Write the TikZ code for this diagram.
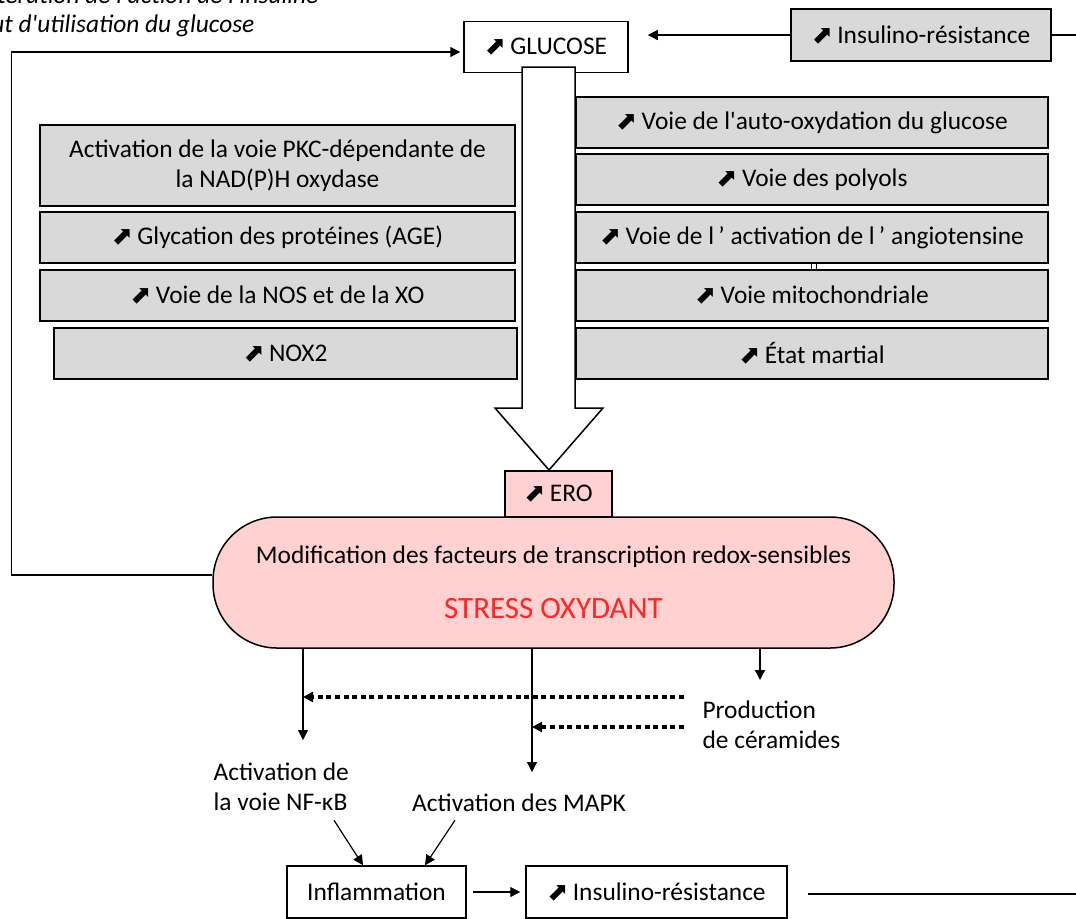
\documentclass[tikz,border=0pt]{standalone}
\usepackage{fontspec}
\setmainfont{Carlito}
\newfontfamily\symbfont{DejaVu Sans}
\usetikzlibrary{arrows.meta}
\definecolor{boxgray}{RGB}{217,217,217}
\definecolor{eropink}{RGB}{255,209,208}
\definecolor{stressred}{RGB}{255,38,38}
\newcommand{\hausse}{{\symbfont\char"2B08}\,}
\newcommand{\ap}{\textquotesingle}

\begin{document}
\begin{tikzpicture}[x=0.5pt, y=-0.5pt, line width=0.6pt, >={Triangle[length=5pt,width=5pt]},
            every node/.style={font=\fontsize{12.7}{15}\selectfont, inner sep=0pt},
            cadre/.style={draw, line width=0.75pt, fill=white},
            gris/.style={cadre, fill=boxgray},
            voie/.style={gris, minimum width=236pt, minimum height=25.5pt},
            note/.style={anchor=base east, font=\fontsize{12.7}{15}\selectfont\itshape},
            ceram/.style={line width=2pt, dash pattern=on 2.5pt off 1.8pt}]
            \clip (0,0) rectangle (1076,918);
            \node[note] (note1) at (319,3) {Altération de l\ap action de l\ap insuline};
            \node[note] (note2) at (255,32) {Défaut d\ap utilisation du glucose};
            \node[cadre, minimum width=82pt, minimum height=25.5pt] (glucose) at (546,47) {\hausse GLUCOSE};
            \node[gris, minimum width=130pt, minimum height=26pt] (irtop) at (921,35) {\hausse Insulino-résistance};
            \coordinate (rtop) at (1080,35);
            \draw[fill=white, line width=0.75pt] (522,67) -- (522,408) -- (495,408) -- (549,470) -- (603,408) -- (575,408) -- (575,67) -- cycle;
            \node[gris, minimum width=237.5pt, minimum height=40.5pt, align=center] (pkc) at (277.5,165.5) {Activation de la voie PKC-dépendante de\\la NAD(P)H oxydase};
            \node[voie, minimum width=237.5pt] (age) at (277.5,237.5) {\hausse Glycation des protéines (AGE)};
            \node[voie, minimum width=237.5pt] (nos) at (277.5,295.5) {\hausse Voie de la NOS et de la XO};
            \node[voie, minimum width=231.5pt] (nox) at (285.5,353.5) {\hausse NOX2};
            \node[voie] (autox) at (812,122.5) {\hausse Voie de l\ap auto-oxydation du glucose};
            \node[voie] (polyols) at (812,179.5) {\hausse Voie des polyols};
            \node[voie] (angio) at (812,237.5) {\hausse Voie de l\,’ activation de l\,’ angiotensine};
            \node[voie] (mito) at (812,295.5) {\hausse Voie mitochondriale};
            \node[voie] (martial) at (812,353.5) {\hausse État martial};
            \draw[line width=0.5pt] (811,263) rectangle (816,270);
            \node[cadre, fill=eropink, minimum width=53.5pt, minimum height=23pt] (ero) at (558.5,494) {\hausse ERO};
            \node[cadre, fill=eropink, rounded corners=32pt, minimum width=340.5pt, minimum height=65.5pt, align=center] (stress) at (553.5,582.5) {Modification des facteurs de transcription redox-sensibles\\[12.5pt]{\color{stressred}\fontsize{15.5}{15}\selectfont STRESS OXYDANT}};
            \draw[->] (irtop.west) -- (irtop.west -| glucose.east) [shorten >=9.5pt];
            \draw (irtop.east) -- (rtop);
            \draw[->, shorten >=1.5pt] ([yshift=3.75pt]stress.west) -- ++(-201,0) |- ([yshift=-2.5pt]glucose.west);
            \coordinate (a1) at (303,740);
            \coordinate (a2) at (532,772);
            \coordinate (a3) at (760,680);
            \coordinate (d1) at (684,697);
            \coordinate (d2) at (684,727);
            \draw[->] (a1 |- stress.south) -- (a1);
            \draw[->] (a2 |- stress.south) -- (a2);
            \draw[->] (a3 |- stress.south) -- (a3);
            \draw[->, ceram] (d1) -- (d1 -| a1);
            \draw[->, ceram] (d2) -- (d2 -| a2);
            \node[anchor=west, align=left] (prod) at (702,725) {Production\\de céramides};
            \node[anchor=west, align=left] (nfkb) at (213,787) {Activation de\\la voie NF-κB};
            \node (mapk) at (519,803) {Activation des MAPK};
            \node[cadre, minimum width=89.5pt, minimum height=26pt] (infl) at (376.5,892) {Inflammation};
            \node[cadre, minimum width=130.5pt, minimum height=26pt] (irbot) at (656.5,892) {\hausse Insulino-résistance};
            \coordinate (rbot) at (1080,894);
            \draw[<-] ([xshift=-6.75pt]infl.north) -- ++(-29,-45);
            \draw[<-] ([xshift=24.25pt]infl.north) -- ++(30,-45);
            \draw[->, shorten <=3pt, shorten >=2.5pt] (infl) -- (irbot);
            \draw ([xshift=10pt]irbot.east |- rbot) -- (rbot);
          \end{tikzpicture}
\end{document}
